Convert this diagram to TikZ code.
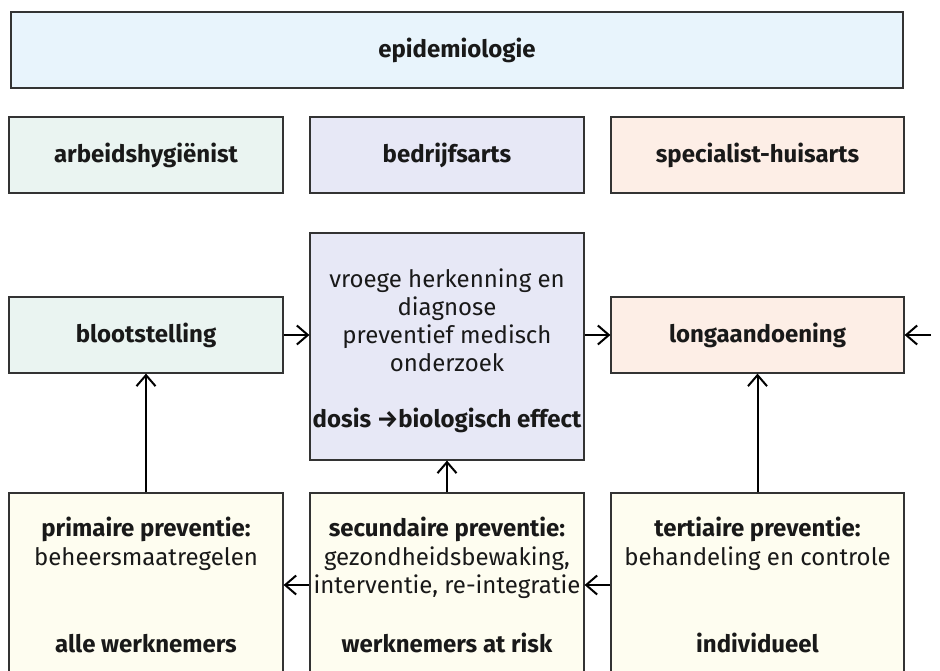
\documentclass[tikz,border=0pt]{standalone}
\usepackage{fontspec}
\setmainfont{Fira Sans}
\usetikzlibrary{arrows.meta}
\definecolor{cEpi}{RGB}{232,244,252}
\definecolor{cGreen}{RGB}{234,244,241}
\definecolor{cLav}{RGB}{231,232,246}
\definecolor{cPeach}{RGB}{253,238,230}
\definecolor{cCream}{RGB}{254,253,240}
\definecolor{cText}{RGB}{25,25,25}
\tikzset{
  box/.style={draw=black!80, line width=1.2pt, inner sep=0pt, anchor=center,
    text=cText, font=\fontsize{24}{28}\selectfont\bfseries},
  wA/.style={minimum width=274pt},
  wC/.style={minimum width=293pt},
  hS/.style={minimum height=76pt},
  txt/.style={anchor=base, inner sep=0pt, text=cText, font=\fontsize{24}{28}\selectfont},
  btxt/.style={txt, font=\fontsize{24}{28}\selectfont\bfseries},
  arr/.style={line width=2pt, -{Straight Barb[length=11pt,width=19pt]}},
}
\begin{document}
\begin{tikzpicture}[x=1pt,y=-1pt]
\useasboundingbox (0,0) rectangle (940,670);
\clip (0,0) rectangle (940,670);
% top
\node[box, fill=cEpi, minimum width=892pt, hS] (epi) at (457,50) {epidemiologie};
% row 2
\node[box, fill=cGreen, wA, hS] (arb) at (146,155) {arbeidshygiënist};
\node[box, fill=cLav, wA, hS] (bed) at (447,155) {bedrijfsarts};
\node[box, fill=cPeach, wC, hS] (spec) at (757.5,155) {specialist-huisarts};
% row 3
\node[box, fill=cGreen, wA, hS] (bloot) at (146,335) {blootstelling};
\node[box, fill=cLav, wA, minimum height=227pt] (mid) at (447,346.5) {};
\node[box, fill=cPeach, wC, hS] (long) at (757.5,335) {longaandoening};
% center text
\node[txt] (m1) at (447,287) {vroege herkenning en};
\node[txt] (m2) at (447,315) {diagnose};
\node[txt] (m3) at (447,343) {preventief medisch};
\node[txt] (m4) at (447,371) {onderzoek};
\node[btxt] (m5) at (447,427) {dosis →biologisch effect};
% bottom boxes
\node[box, fill=cCream, wA, minimum height=207pt] (prim) at (146,596.5) {};
\node[box, fill=cCream, wA, minimum height=207pt] (sec) at (447,596.5) {};
\node[box, fill=cCream, wC, minimum height=207pt] (tert) at (757.5,596.5) {};
\node[btxt] (p1) at (146,536) {primaire preventie:};
\node[txt] (p2) at (146,565) {beheersmaatregelen};
\node[btxt] (p3) at (146,652) {alle werknemers};
\node[btxt] (s1) at (447,536) {secundaire preventie:};
\node[txt] (s2) at (447,565) {gezondheidsbewaking,};
\node[txt] (s3) at (447,593) {interventie, re-integratie};
\node[btxt] (s4) at (447,652) {werknemers at risk};
\node[btxt] (t1) at (757.5,536) {tertiaire preventie:};
\node[txt] (t2) at (757.5,565) {behandeling en controle};
\node[btxt] (t3) at (757.5,652) {individueel};
% connectors
\coordinate (rin) at (931,335);
\coordinate (hy) at (0,585);
\draw[arr] (bloot.east) -- (bloot.east -| mid.west);
\draw[arr] (long.west -| mid.east) -- (long.west);
\draw[arr] (rin) -- (long.east);
\draw[arr] (prim.north) -- (bloot.south);
\draw[arr] (sec.north) -- (mid.south);
\draw[arr] (tert.north) -- (long.south);
\draw[arr] (tert.west |- hy) -- (sec.east |- hy);
\draw[arr] (sec.west |- hy) -- (prim.east |- hy);
\end{tikzpicture}
\end{document}
